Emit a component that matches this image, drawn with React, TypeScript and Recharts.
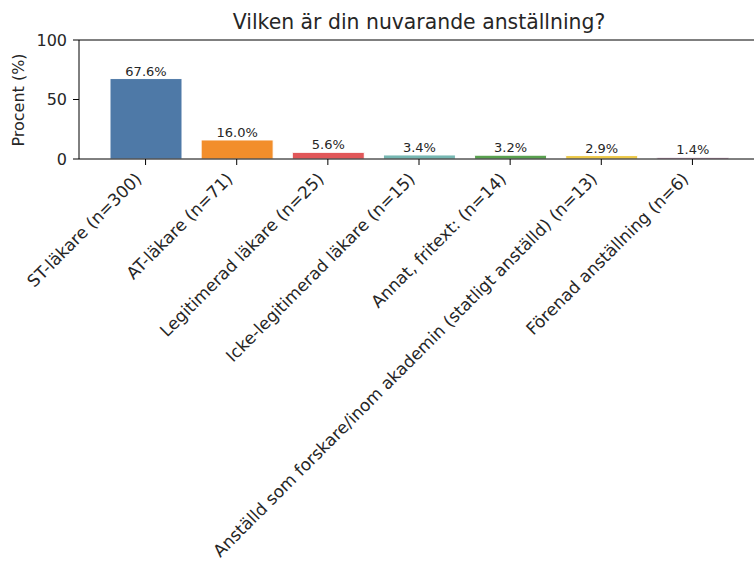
import React from 'react';
import { BarChart, Bar, XAxis, YAxis, Cell, LabelList, ReferenceLine } from 'recharts';

const categories = [
  'ST-läkare (n=300)',
  'AT-läkare (n=71)',
  'Legitimerad läkare (n=25)',
  'Icke-legitimerad läkare (n=15)',
  'Annat, fritext: (n=14)',
  'Anställd som forskare/inom akademin (statligt anställd) (n=13)',
  'Förenad anställning (n=6)',
];
const percentages = [67.6, 16.0, 5.6, 3.4, 3.2, 2.9, 1.4];
const barColors = ['#4e79a7', '#f28e2b', '#e15759', '#76b7b2', '#59a14f', '#edc948', '#b07aa1'];
const yTicks = [0, 50, 100];

const title = 'Vilken är din nuvarande anställning?';
const yLabel = 'Procent (%)';

const FONT = '"DejaVu Sans", sans-serif';
const TEXT = '#262626';

const data = categories.map((name, i) => ({ name, value: percentages[i] }));

const XTick = (props: any) => {
  const { x, y, payload } = props;
  const ox = x - 3;
  const oy = y + 9;
  return (
    <text
      x={ox}
      y={oy}
      transform={`rotate(-45, ${ox}, ${oy})`}
      textAnchor="end"
      fontSize={16.9}
      fontFamily={FONT}
      fill={TEXT}
    >
      {payload.value}
    </text>
  );
};

export default function App() {
  return (
    <div style={{ position: 'absolute', left: 0, top: 0, width: 754, height: 562, overflow: 'hidden', background: '#fff' }}>
      <BarChart
        width={770}
        height={562}
        data={data}
        margin={{ top: 40, right: 11, left: 0, bottom: 0 }}
        barSize={72}
      >
        <XAxis
          dataKey="name"
          height={403}
          interval={0}
          padding={{ left: 21, right: 21 }}
          tick={<XTick />}
          tickSize={6}
          tickMargin={6}
          stroke="#000"
          tickLine={{ stroke: '#000' }}
          axisLine={{ stroke: '#000' }}
        />
        <YAxis
          width={79}
          domain={[0, 100]}
          ticks={yTicks}
          interval={0}
          tickSize={6}
          tickMargin={6}
          tick={{ fill: TEXT, fontSize: 16, fontFamily: FONT }}
          stroke="#000"
          axisLine={{ stroke: '#000' }}
          tickLine={{ stroke: '#000' }}
        />
        <ReferenceLine y={100} stroke="#000" strokeWidth={1} />
        <Bar dataKey="value" isAnimationActive={false} stroke="#ffffff" strokeWidth={1}>
          {data.map((d, i) => (
            <Cell key={`cell-${i}`} fill={barColors[i]} />
          ))}
          <LabelList
            dataKey="value"
            position="top"
            offset={3}
            formatter={(v: any) => `${Number(v).toFixed(1)}%`}
            style={{ fontSize: 13, fontFamily: FONT, fill: TEXT }}
          />
        </Bar>
      </BarChart>
      <svg width={754} height={562} style={{ position: 'absolute', left: 0, top: 0, pointerEvents: 'none' }}>
        <text x={419} y={29} textAnchor="middle" fontSize={20.4} fontFamily={FONT} fill={TEXT}>
          {title}
        </text>
        <text
          x={24}
          y={100}
          transform="rotate(-90, 24, 100)"
          textAnchor="middle"
          fontSize={16}
          fontFamily={FONT}
          fill={TEXT}
        >
          {yLabel}
        </text>
      </svg>
    </div>
  );
}
